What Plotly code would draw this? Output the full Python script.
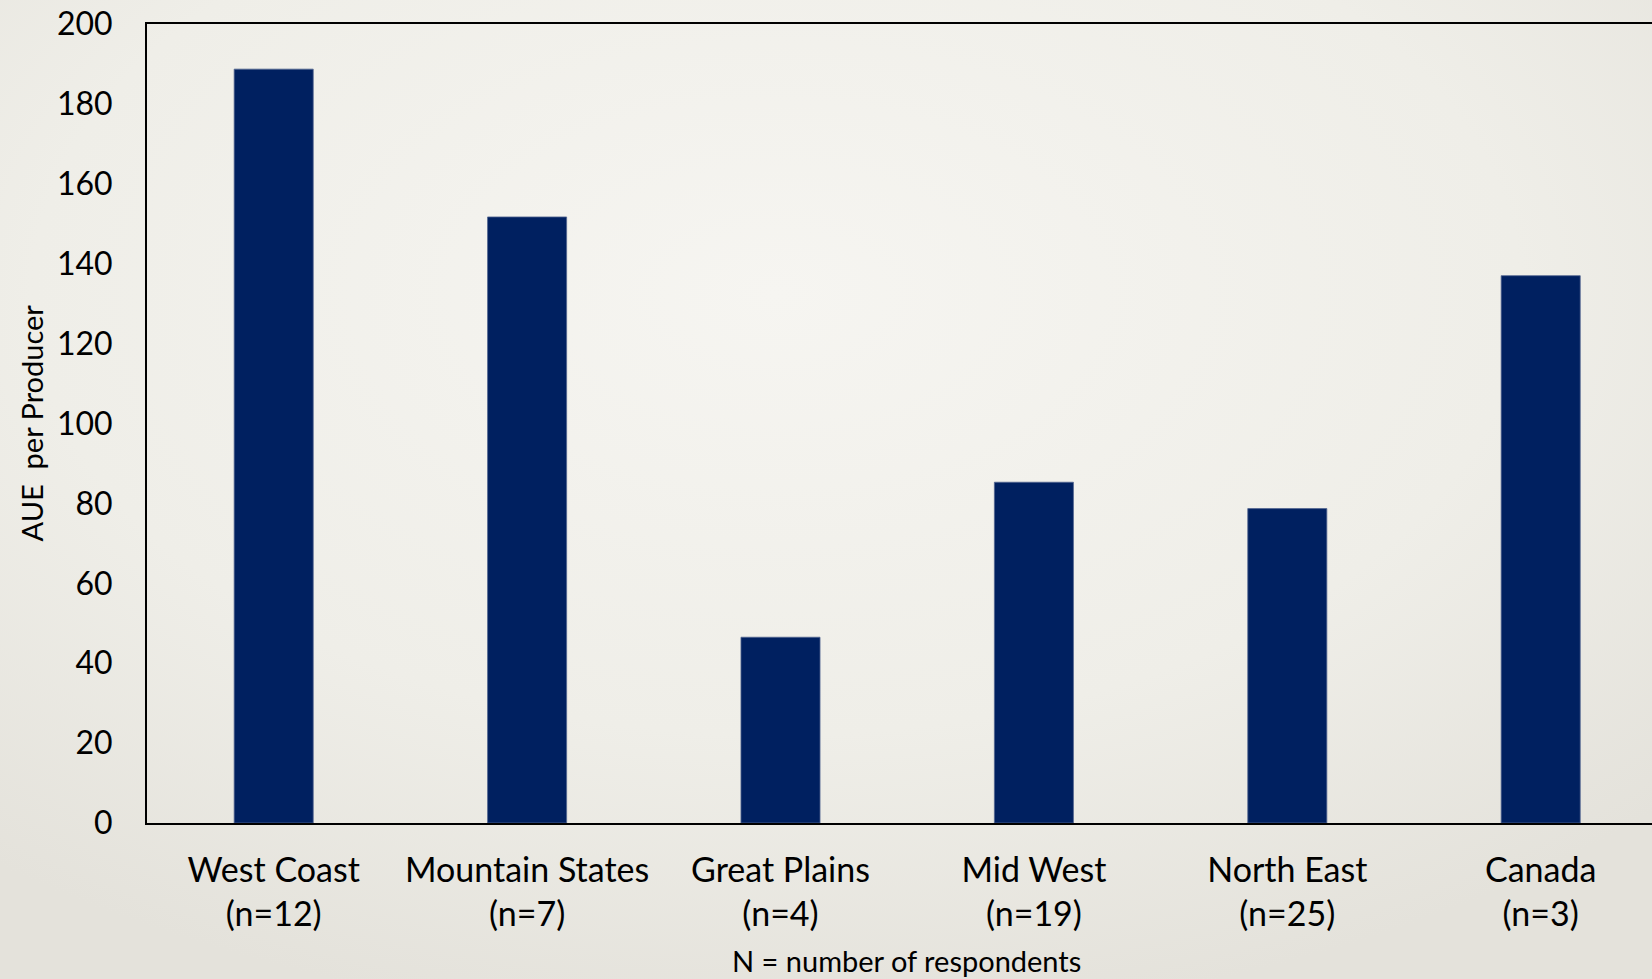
import plotly.graph_objects as go
import urllib.parse

# data
regions = ['West Coast', 'Mountain States', 'Great Plains', 'Mid West', 'North East', 'Canada']
respondents = [12, 7, 4, 19, 25, 3]
aue_per_producer = [188.7, 151.7, 46.5, 85.3, 78.7, 137.0]
y_ticks = [0, 20, 40, 60, 80, 100, 120, 140, 160, 180, 200]

tick_text = [f'{r}<br>({"n=" + str(n)})' for r, n in zip(regions, respondents)]

FONT = 'Lato, "Open Sans", sans-serif'

# soft radial background like the slide
svg = (
    '<svg xmlns="http://www.w3.org/2000/svg" width="1652" height="979">'
    '<defs><radialGradient id="g" cx="0.47" cy="0.3" r="0.75">'
    '<stop offset="0" stop-color="#f6f5f1"/>'
    '<stop offset="0.6" stop-color="#efeee8"/>'
    '<stop offset="1" stop-color="#e4e2db"/>'
    '</radialGradient></defs>'
    '<rect width="1652" height="979" fill="url(#g)"/></svg>'
)
bg_uri = 'data:image/svg+xml;charset=utf-8,' + urllib.parse.quote(svg)

fig = go.Figure(data=[
    go.Bar(
        x=list(range(len(regions))),
        y=aue_per_producer,
        width=0.312,
        marker_color='#002060',
        marker_line=dict(color='#52658f', width=0.8),
        hovertext=regions,
    )
])

W, H = 1652, 979
L, T, B = 147, 24, 156
plot_w = W - L
cat_w = 253.4

fig.update_layout(
    width=W,
    height=H,
    margin=dict(l=L, r=0, t=T, b=B, pad=0),
    paper_bgcolor='#eeece7',
    plot_bgcolor='rgba(0,0,0,0)',
    font=dict(family=FONT, color='black'),
    showlegend=False,
    images=[dict(
        source=bg_uri,
        xref='paper', yref='paper',
        x=-L / plot_w, y=1 + T / (H - T - B),
        sizex=W / plot_w, sizey=H / (H - T - B),
        xanchor='left', yanchor='top',
        sizing='stretch', layer='below',
    )],
    xaxis=dict(
        range=[-0.5, -0.5 + plot_w / cat_w],
        tickmode='array',
        tickvals=list(range(len(regions))),
        ticktext=tick_text,
        tickfont=dict(size=34, family=FONT),
        ticks='',
        ticklabelstandoff=16,
        showgrid=False,
        zeroline=False,
        showline=True,
        linecolor='black',
        linewidth=2,
        mirror=True,
    ),
    yaxis=dict(
        range=[0, 200],
        tickmode='array',
        tickvals=y_ticks,
        tickfont=dict(size=32, family=FONT),
        ticks='',
        ticklabelstandoff=26,
        showgrid=False,
        zeroline=False,
        showline=True,
        linecolor='black',
        linewidth=2,
    ),
    annotations=[
        dict(
            text='AUE  per Producer',
            xref='paper', yref='paper',
            x=(31 - L) / plot_w, y=0.5,
            textangle=-90,
            showarrow=False,
            xanchor='center', yanchor='middle',
            font=dict(size=29, family=FONT),
        ),
        dict(
            text='N = number of respondents',
            xref='paper', yref='paper',
            x=(906 - L) / plot_w, y=(H - B - 961) / (H - T - B),
            showarrow=False,
            xanchor='center', yanchor='middle',
            font=dict(size=29, family=FONT),
        ),
    ],
)

# drop the browser's default page margin so the figure fills the window
fig.write_html(
    'out.html',
    config={'displayModeBar': False},
    post_script="document.body.style.margin='0';document.body.style.overflow='hidden';",
)
